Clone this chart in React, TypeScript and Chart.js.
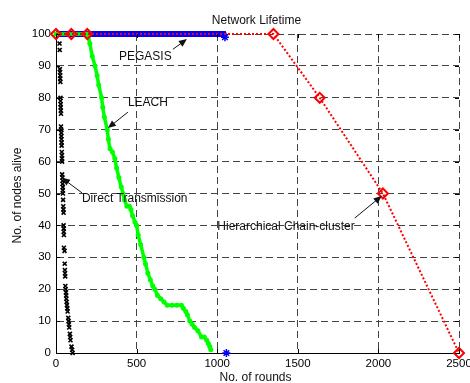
import React, { useEffect, useRef } from "react";
import { Chart, registerables } from "chart.js";

Chart.register(...registerables);

// Direct Transmission (black x)
const dtRounds = [22, 23, 24, 25, 26, 26, 27, 28, 28, 29, 29, 30, 31, 31, 32, 33, 33, 34, 35, 35, 36, 37, 37, 38, 38, 40, 41, 41, 42, 42, 43, 44, 45, 46, 47, 47, 48, 48, 49, 49, 53, 54, 55, 56, 57, 58, 60, 62, 63, 64, 66, 68, 70, 72, 76, 78, 80, 82, 86, 88, 90, 96, 100, 103];
const dtAlive = [97, 95, 89, 88, 87, 86, 85, 80, 79, 78, 77, 76, 75, 71, 70, 69, 68, 67, 66, 65, 63, 62, 61, 60, 56, 55, 54, 53, 52, 51, 50, 48, 46, 45, 44, 40, 39, 38, 37, 33, 32, 28, 26, 25, 24, 21, 20, 19, 18, 17, 16, 15, 14, 13, 11, 10, 9, 8, 6, 5, 4, 2, 1, 0];

// LEACH (green)
const leachRounds = [0, 190, 200, 210, 225, 242, 255, 265, 283, 290, 300, 318, 325, 335, 350, 365, 376, 390, 405, 416, 425, 440, 455, 465, 475, 490, 500, 510, 525, 545, 555, 570, 585, 600, 613, 630, 650, 670, 690, 720, 750, 778, 790, 805, 815, 830, 845, 860, 880, 903, 920, 935, 945, 954, 960];
const leachAlive = [100, 100, 99, 97, 93, 90, 87, 84, 80, 77, 74, 70, 67, 64, 63, 61, 58, 55, 52, 50, 48, 46, 46, 45, 43, 41, 40, 37, 34, 30, 28, 25, 23, 21, 20, 18, 17, 16, 15, 15, 15, 15, 14, 13, 12, 10, 9, 8, 7, 5, 5, 4, 3, 2, 1];

// PEGASIS (blue)
const pegRounds = [0, 1040, 1048, 1057];
const pegAlive = [100, 100, 99, 0];

// Hierarchical Chain-cluster (red)
const hccRounds = [0, 95, 194, 1349, 1636, 2028, 2500];
const hccAlive = [100, 100, 100, 100, 80, 50, 0];

const xMax = 2500;
const xStep = 500;
const yMax = 100;
const yStep = 10;

const chartTitle = "Network Lifetime";
const xTitle = "No. of rounds";
const yTitle = "No. of nodes alive";

// annotations: [text, textX, textY, align, arrowFromX, arrowFromY, arrowToX, arrowToY]
const annotations: [string, number, number, CanvasTextAlign, number, number, number, number][] = [
  ["PEGASIS", 554, 92.8, "center", 725, 95.2, 812, 98.4],
  ["LEACH", 570, 78.4, "center", 446, 75.5, 322, 70.5],
  ["Direct Transmission", 161, 48.3, "left", 161, 50.2, 37, 54.9],
  ["Hierarchical Chain-cluster", 1853, 39.6, "right", 1853, 42.3, 2020, 49.2],
];

const FONT = "'Liberation Sans', Arial, sans-serif";

function pts(xs: number[], ys: number[]) {
  return xs.map((x, i) => ({ x, y: ys[i] }));
}

function arrow(ctx: CanvasRenderingContext2D, x1: number, y1: number, x2: number, y2: number) {
  const ang = Math.atan2(y2 - y1, x2 - x1);
  const hl = 8;
  const hw = 3.5;
  ctx.beginPath();
  ctx.moveTo(x1, y1);
  ctx.lineTo(x2 - Math.cos(ang) * hl * 0.8, y2 - Math.sin(ang) * hl * 0.8);
  ctx.stroke();
  ctx.beginPath();
  ctx.moveTo(x2, y2);
  ctx.lineTo(x2 - Math.cos(ang) * hl + Math.sin(ang) * hw, y2 - Math.sin(ang) * hl - Math.cos(ang) * hw);
  ctx.lineTo(x2 - Math.cos(ang) * hl - Math.sin(ang) * hw, y2 - Math.sin(ang) * hl + Math.cos(ang) * hw);
  ctx.closePath();
  ctx.fill();
}

const decor = {
  id: "decor",
  afterDraw(chart: any) {
    const { ctx, chartArea: a, scales } = chart;
    const xs = scales.x;
    const ys = scales.y;
    ctx.save();
    // inner ticks
    ctx.strokeStyle = "#000";
    ctx.lineWidth = 1;
    ctx.setLineDash([]);
    for (let v = 0; v <= xMax; v += xStep) {
      const px = Math.round(xs.getPixelForValue(v)) + 0.5;
      ctx.beginPath();
      ctx.moveTo(px, a.bottom);
      ctx.lineTo(px, a.bottom - 4);
      ctx.moveTo(px, a.top);
      ctx.lineTo(px, a.top + 4);
      ctx.stroke();
    }
    for (let v = 0; v <= yMax; v += yStep) {
      const py = Math.round(ys.getPixelForValue(v)) + 0.5;
      ctx.beginPath();
      ctx.moveTo(a.left, py);
      ctx.lineTo(a.left + 4, py);
      ctx.moveTo(a.right, py);
      ctx.lineTo(a.right - 4, py);
      ctx.stroke();
    }
    // texts
    ctx.fillStyle = "#111";
    ctx.font = `12px ${FONT}`;
    ctx.textAlign = "center";
    ctx.textBaseline = "middle";
    ctx.fillText(chartTitle, (a.left + a.right) / 2 - 1, 21);
    ctx.fillText(xTitle, (a.left + a.right) / 2 - 2, 378);
    ctx.save();
    ctx.translate(18, (a.top + a.bottom) / 2 + 2);
    ctx.rotate(-Math.PI / 2);
    ctx.fillText(yTitle, 0, 0);
    ctx.restore();
    // annotations
    ctx.lineWidth = 1;
    ctx.fillStyle = "#111";
    ctx.strokeStyle = "#111";
    for (const [t, tx, ty, al, fx, fy, hx, hy] of annotations) {
      ctx.textAlign = al;
      ctx.fillText(t, xs.getPixelForValue(tx), ys.getPixelForValue(ty));
      arrow(ctx, xs.getPixelForValue(fx), ys.getPixelForValue(fy), xs.getPixelForValue(hx), ys.getPixelForValue(hy));
    }
    ctx.restore();
  },
};

export default function App() {
  const ref = useRef<HTMLCanvasElement>(null);
  useEffect(() => {
    if (!ref.current) return;
    const chart = new Chart(ref.current, {
      type: "scatter",
      data: {
        datasets: [
          {
            label: "Hierarchical Chain-cluster",
            data: pts(hccRounds, hccAlive),
            showLine: true,
            clip: 10,
            borderColor: "#ff0000",
            borderWidth: 2,
            borderDash: [2, 2],
            pointStyle: "rectRot",
            pointRadius: 5,
            pointBorderWidth: 2,
            pointBorderColor: "#ff0000",
            pointBackgroundColor: "rgba(255,255,255,0)",
            order: 0,
          },
          {
            label: "PEGASIS",
            data: pts(pegRounds, pegAlive),
            showLine: true,
            clip: 10,
            borderColor: "#0000ff",
            borderWidth: 6,
            segment: {
              borderColor: (c: any) => (c.p1DataIndex === pegRounds.length - 1 ? "rgba(0,0,0,0)" : "#0000ff"),
            },
            pointStyle: "star",
            pointRadius: (c: any) => (c.dataIndex >= pegRounds.length - 2 ? 4 : 0),
            pointBorderWidth: 1.5,
            pointBorderColor: "#0000ff",
            pointBackgroundColor: "#0000ff",
            order: 2,
          },
          {
            label: "LEACH",
            data: pts(leachRounds, leachAlive),
            showLine: true,
            clip: 10,
            borderColor: "#00ff00",
            borderWidth: 3.5,
            pointStyle: "circle",
            pointRadius: 2.5,
            pointBorderWidth: 0,
            pointBackgroundColor: "#00ff00",
            order: 1,
          },
          {
            label: "Direct Transmission",
            data: pts(dtRounds, dtAlive),
            showLine: false,
            clip: 10,
            pointStyle: "crossRot",
            pointRadius: 2.8,
            pointBorderWidth: 1.6,
            pointBorderColor: "#000",
            order: 3,
          },
        ],
      },
      options: {
        animation: false,
        responsive: false,
        layout: { padding: { left: 0, top: 34, right: 11, bottom: 0 } },
        plugins: { legend: { display: false }, tooltip: { enabled: false } },
        scales: {
          x: {
            type: "linear",
            min: 0,
            max: xMax,
            ticks: {
              stepSize: xStep,
              padding: 4,
              color: "#000",
              font: { family: FONT, size: 11.5 },
              maxRotation: 0,
              callback: (v: any) => String(v),
            },
            grid: { color: "#444", lineWidth: 1, drawTicks: false },
            border: { display: true, color: "#000", width: 1, dash: [7, 4] },
            afterFit: (s: any) => {
              s.height = 30;
              s.paddingLeft = 0;
              s.paddingRight = 0;
            },
          },
          y: {
            type: "linear",
            min: 0,
            max: yMax,
            ticks: {
              stepSize: yStep,
              padding: 5,
              color: "#000",
              font: { family: FONT, size: 11.5 },
              callback: (v: any) => String(v),
            },
            grid: { color: "#444", lineWidth: 1, drawTicks: false },
            border: { display: true, color: "#000", width: 1, dash: [7, 4] },
            afterFit: (s: any) => {
              s.width = 56;
              s.paddingTop = 0;
              s.paddingBottom = 0;
            },
          },
        },
      },
      plugins: [decor],
    } as any);
    return () => chart.destroy();
  }, []);
  return (
    <div style={{ position: "absolute", left: 0, top: 0, width: 470, height: 383, background: "#fff" }}>
      <canvas ref={ref} width={470} height={383} style={{ display: "block" }} />
    </div>
  );
}
